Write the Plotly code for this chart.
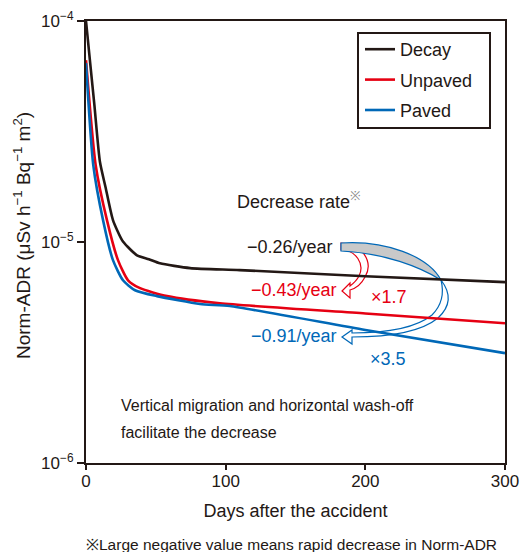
import plotly.graph_objects as go

# ---------------- data ----------------
series_names = ["Decay", "Unpaved", "Paved"]
series_colors = ["#231815", "#e60012", "#0068b7"]

days_decay = [0, 3, 6, 10, 14, 19.3, 25.8, 30, 36.5, 45, 53, 74.5, 110, 200, 300]
adr_decay = [1.0e-4, 6.45e-5, 4.17e-5, 2.30e-5, 1.77e-5, 1.256e-5, 1.02e-5, 9.49e-6,
             8.71e-6, 8.36e-6, 8.01e-6, 7.62e-6, 7.46e-6, 7.0e-6, 6.58e-6]

days_unpaved = [0, 6.9, 15, 22.9, 30.1, 38.7, 58, 95.9, 200, 300]
adr_unpaved = [6.65e-5, 2.23e-5, 1.256e-5, 8.28e-6, 6.71e-6, 6.18e-6, 5.69e-6,
               5.28e-6, 4.75e-6, 4.29e-6]

days_paved = [0, 5.2, 12.2, 19.3, 26.5, 35.1, 50.8, 81.6, 103, 200, 300]
adr_paved = [6.45e-5, 2.23e-5, 1.256e-5, 8.28e-6, 6.71e-6, 6.05e-6, 5.69e-6,
             5.24e-6, 5.13e-6, 4.0e-6, 3.14e-6]

x_tickvals = [0, 100, 200, 300]
y_tickvals = [1e-6, 1e-5, 1e-4]
y_ticktext = ["10<sup>−6</sup>", "10<sup>−5</sup>", "10<sup>−4</sup>"]

rate_labels = ["−0.26/year", "−0.43/year", "−0.91/year"]
ratio_labels = ["×1.7", "×3.5"]

FONT = "Liberation Sans, Arial, Helvetica, sans-serif"
INK = "#231815"

# ---------------- figure ----------------
W, H = 520, 552
L, R, T, B = 86, 15, 21, 89
PW, PH = W - L - R, H - T - B

fig = go.Figure()
for i, (xs, ys) in enumerate([(days_decay, adr_decay),
                              (days_unpaved, adr_unpaved),
                              (days_paved, adr_paved)]):
    fig.add_trace(go.Scatter(
        x=xs, y=ys, mode="lines", name=series_names[i],
        legendgroup=series_names[i],
        line=dict(color=series_colors[i], width=2.6, shape="spline", smoothing=0.6),
    ))


def P(x, y):
    return f"{(x - L) / PW:.5f},{(H - B - y) / PH:.5f}"


def build(segs, close=True):
    parts = []
    for cmd, pts in segs:
        parts.append(cmd + " " + " ".join(P(*p) for p in pts))
    return " ".join(parts) + (" Z" if close else "")


# red hollow arrow
red_arrow = build([
    ("M", [(341, 243)]),
    ("C", [(362, 243), (374, 262), (365, 277)]),
    ("C", [(362, 283), (357, 288), (350, 290)]),
    ("L", [(350, 298)]),
    ("L", [(342, 291)]),
    ("L", [(350, 283)]),
    ("L", [(350, 286)]),
    ("C", [(354, 283), (357, 280), (359, 276)]),
    ("C", [(365, 264), (356, 250), (341, 250)]),
])
# blue arrow: gray twisted part
blue_gray = build([
    ("M", [(341, 243)]),
    ("C", [(385, 240), (428, 256), (441, 280)]),
    ("C", [(420, 267), (385, 253), (341, 251)]),
])
# blue arrow: white part with head
blue_white = build([
    ("M", [(441, 280)]),
    ("C", [(451, 293), (451, 306), (438, 318)]),
    ("C", [(421, 332), (392, 337), (352, 337)]),
    ("L", [(352, 344)]),
    ("L", [(342, 337)]),
    ("L", [(352, 330)]),
    ("L", [(352, 333)]),
    ("C", [(390, 333), (417, 327), (432, 315)]),
    ("C", [(443, 304), (444, 292), (441, 280)]),
])

shapes = [
    dict(type="path", xref="paper", yref="paper", path=red_arrow,
         fillcolor="white", line=dict(color="#e60012", width=1.2), layer="below"),
    dict(type="path", xref="paper", yref="paper", path=blue_gray,
         fillcolor="#c9c9c9", line=dict(color="#0068b7", width=1.2), layer="below"),
    dict(type="path", xref="paper", yref="paper", path=blue_white,
         fillcolor="white", line=dict(color="#0068b7", width=1.2), layer="below"),
    # legend frame
    dict(type="rect", xref="paper", yref="paper",
         x0=(358 - L) / PW, x1=(490 - L) / PW,
         y0=(H - B - 128) / PH, y1=(H - B - 33) / PH,
         fillcolor="white", line=dict(color=INK, width=2), layer="below"),
]


def ann(text, x, y, color=INK, size=18, xanchor="left", **kw):
    d = dict(text=text, x=x, y=y, xref="x", yref="y", showarrow=False,
             font=dict(family=FONT, size=size, color=color),
             xanchor=xanchor, yanchor="middle")
    d.update(kw)
    return d


annotations = [
    ann("Decrease rate<span style='color:#8a8a8a'><sup>※</sup></span>", 106.7, -4.81),
    ann(rate_labels[0], 178, -5.023, color=series_colors[0], xanchor="right"),
    ann(rate_labels[1], 181, -5.218, color=series_colors[1], xanchor="right"),
    ann(rate_labels[2], 181, -5.426, color=series_colors[2], xanchor="right"),
    ann(ratio_labels[0], 202.6, -5.25, color=series_colors[1]),
    ann(ratio_labels[1], 201.9, -5.531, color=series_colors[2]),
    ann("Vertical migration and horizontal wash-off", 23.6, -5.739, size=16),
    ann("facilitate the decrease", 23.6, -5.861, size=16),
    dict(text="※Large negative value means rapid decrease in Norm-ADR",
         x=(291 - L) / PW, y=(H - B - 544) / PH, xref="paper", yref="paper",
         showarrow=False, xanchor="center", yanchor="middle",
         font=dict(family=FONT, size=15.5, color=INK)),
    dict(text="Norm-ADR (μSv h<sup>−1</sup> Bq<sup>−1</sup> m<sup>2</sup>)",
         x=(22 - L) / PW, y=(H - B - 236) / PH, xref="paper", yref="paper",
         showarrow=False, xanchor="center", yanchor="middle", textangle=-90,
         font=dict(family=FONT, size=19, color=INK)),
]

fig.update_layout(
    width=W, height=H,
    margin=dict(l=L, r=R, t=T, b=B, autoexpand=False),
    paper_bgcolor="white", plot_bgcolor="white",
    font=dict(family=FONT, size=17, color=INK),
    shapes=shapes,
    annotations=annotations,
    showlegend=True,
    legend=dict(x=(360 - L) / PW, y=(H - B - 31) / PH, xanchor="left", yanchor="top",
                borderwidth=0, bgcolor="rgba(0,0,0,0)",
                font=dict(family=FONT, size=18, color=INK),
                tracegroupgap=4, itemwidth=30),
)
fig.update_xaxes(
    range=[0, 300], tickvals=x_tickvals, ticks="outside", ticklen=5, tickwidth=1.5,
    tickcolor=INK, showline=True, linewidth=2, linecolor=INK, mirror=True,
    showgrid=False, zeroline=False, automargin=False, ticklabelstandoff=-3,
    tickfont=dict(family=FONT, size=17, color=INK),
    title=dict(text="Days after the accident", standoff=14,
               font=dict(family=FONT, size=18, color=INK)),
)
fig.update_yaxes(
    type="log", range=[-6, -4], tickvals=y_tickvals, ticktext=y_ticktext,
    ticks="outside", ticklen=7, tickwidth=1.5, tickcolor=INK,
    showline=True, linewidth=2, linecolor=INK, mirror=True,
    showgrid=False, zeroline=False, automargin=False,
    tickfont=dict(family=FONT, size=17, color=INK),
)

fig.write_html("out.html", config={"displayModeBar": False},
               post_script="document.body.style.margin='0';document.body.style.padding='0';")
